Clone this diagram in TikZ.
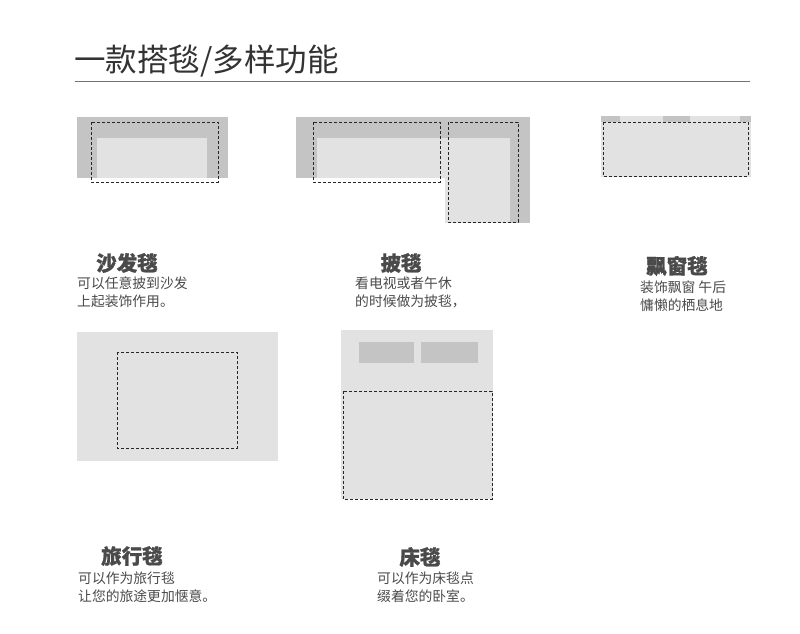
\documentclass[tikz,border=0pt]{standalone}
\usepackage{fontspec}
\newfontfamily\cjk{Noto Sans CJK SC}
\newfontfamily\cjkbold{Noto Sans CJK SC Black}[FakeBold=1]
\usetikzlibrary{positioning}
\definecolor{sofagray}{HTML}{C4C4C4}
\definecolor{rugfill}{HTML}{E2E2E2}
\definecolor{textgray}{HTML}{4A4A4A}
\tikzset{
  sofa/.style={fill=sofagray, draw=none},
  rug/.style={fill=rugfill, draw=none},
  cutline/.style={draw=black!85, dash pattern=on 3pt off 2pt, line width=1pt},
  heading/.style={font=\cjkbold\fontsize{20.5}{20.5}\selectfont, text=textgray, inner sep=0pt},
  caption/.style={font=\cjk\fontsize{13.8}{18}\selectfont, text=textgray, align=left, inner sep=0pt, anchor=north west}
}
\begin{document}
\begin{tikzpicture}[x=1pt,y=-1pt]
\useasboundingbox[fill=white] (0,0) rectangle (800,634);
% title
\node[font=\cjk\fontsize{31.5}{31.5}\selectfont, text=black!80, anchor=west, inner sep=0pt] (title) at (74,61) {一款搭毯/多样功能};
\draw[black!55, line width=1pt] (75,81) -- (750,81);

% sofa
\fill[sofa] (77,117) rectangle (228,178);
\fill[rug] (97,138) rectangle (207,178);
\draw[cutline] (91,122) rectangle (218,182);
\node[heading] (sofaT) at (127,263) {沙发毯};
\node[caption] (sofaC) at (77,277) {可以任意披到沙发\\上起装饰作用。};

% corner sofa
\fill[sofa] (296,117) rectangle (530,178);
\fill[sofa] (445,117) rectangle (530,223);
\fill[rug] (317,138) rectangle (510,178);
\fill[rug] (445,138) rectangle (510,223);
\draw[cutline] (313,122) rectangle (440,182);
\draw[cutline] (448,122) rectangle (518,222);
\node[heading] (throwT) at (401,263) {披毯};
\node[caption] (throwC) at (355,277) {看电视或者午休\\的时候做为披毯，};

% bay window
\fill[rug] (601,116) rectangle (751,177);
\foreach \xa/\xb in {601/620, 663/690, 740/751}
  \fill[sofa] (\xa,116) rectangle (\xb,122);
\draw[cutline] (603,122) rectangle (748,176);
\node[heading] (bayT) at (677,266) {飘窗毯};
\node[caption] (bayC) at (640,281) {装饰飘窗 午后\\慵懒的栖息地};

% travel
\fill[rug] (77,332) rectangle (278,461);
\draw[cutline] (117,352) rectangle (237,448);
\node[heading] (travelT) at (132,556) {旅行毯};
\node[caption] (travelC) at (78,572) {可以作为旅行毯\\让您的旅途更加惬意。};

% bed
\fill[rug] (341,330) rectangle (493,499);
\fill[sofa] (359,342) rectangle (414,363);
\fill[sofa] (421,342) rectangle (478,363);
\draw[cutline] (343,391) rectangle (492,499);
\node[heading] (bedT) at (420,557) {床毯};
\node[caption] (bedC) at (377,572) {可以作为床毯点\\缀着您的卧室。};
\end{tikzpicture}
\end{document}
